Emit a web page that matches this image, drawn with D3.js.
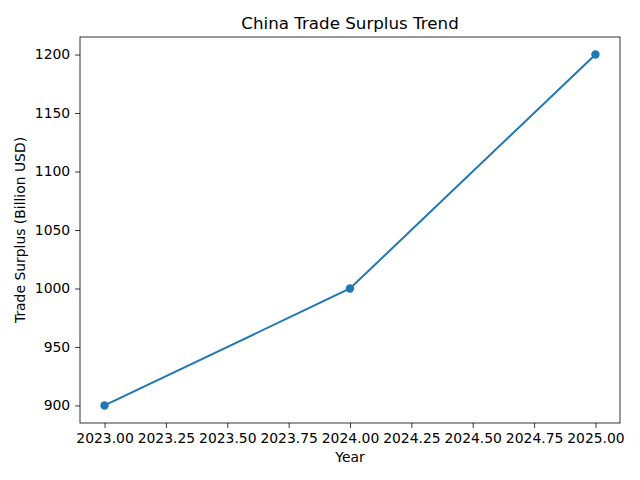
<!DOCTYPE html>
<html><head><meta charset="utf-8">
<script src="https://cdn.jsdelivr.net/npm/d3@7"></script>
<style>body{margin:0;background:#fff}text{font-family:"DejaVu Sans",sans-serif;fill:#000}</style>
</head><body>
<svg id="chart" width="640" height="480"></svg>
<script>
var years = [2023, 2024, 2025];
var surplus = [900, 1000, 1200];
var xTicks = [2023, 2023.25, 2023.5, 2023.75, 2024, 2024.25, 2024.5, 2024.75, 2025];
var yTicks = [900, 950, 1000, 1050, 1100, 1150, 1200];

var svg = d3.select("svg#chart");
var m = {left: 80, right: 620, top: 37, bottom: 423};
var color = "#1f77b4";

/* matplotlib style 5% margins */
var x = d3.scaleLinear().domain([2022.9, 2025.1]).range([m.left, m.right]);
var y = d3.scaleLinear().domain([885, 1215]).range([m.bottom, m.top]);

var xAxis = svg.append("g")
  .attr("transform", `translate(0,${m.bottom})`)
  .call(d3.axisBottom(x).tickValues(xTicks).tickFormat(d3.format(".2f")).tickSize(4.9).tickPadding(4.9));
var yAxis = svg.append("g")
  .attr("transform", `translate(${m.left},0)`)
  .call(d3.axisLeft(y).tickValues(yTicks).tickFormat(d3.format("d")).tickSize(4.9).tickPadding(4.9));
[xAxis, yAxis].forEach(a => {
  a.select(".domain").remove();
  a.selectAll("text").style("font-size", "13.9px").attr("font-family", null);
  a.selectAll("line").attr("stroke", "#000").attr("stroke-width", 0.8);
});

svg.append("rect")
  .attr("x", m.left).attr("y", m.top)
  .attr("width", m.right - m.left).attr("height", m.bottom - m.top)
  .attr("fill", "none").attr("stroke", "#000").attr("stroke-width", 0.8);

var pts = years.map((d, i) => [d, surplus[i]]);
svg.append("path")
  .datum(pts)
  .attr("d", d3.line().x(d => x(d[0])).y(d => y(d[1])))
  .attr("fill", "none").attr("stroke", color).attr("stroke-width", 2);
svg.selectAll(".pt").data(pts).enter().append("circle")
  .attr("cx", d => x(d[0])).attr("cy", d => y(d[1])).attr("r", 4.2)
  .attr("fill", color);

svg.append("text").text("China Trade Surplus Trend")
  .attr("x", (m.left + m.right) / 2).attr("y", 29)
  .attr("text-anchor", "middle").style("font-size", "16.7px");
svg.append("text").text("Year")
  .attr("x", (m.left + m.right) / 2).attr("y", 462)
  .attr("text-anchor", "middle").style("font-size", "13.9px");
svg.append("text").text("Trade Surplus (Billion USD)")
  .attr("transform", `translate(25,${(m.top + m.bottom) / 2}) rotate(-90)`)
  .attr("text-anchor", "middle").style("font-size", "13.9px");
</script>
</body></html>
